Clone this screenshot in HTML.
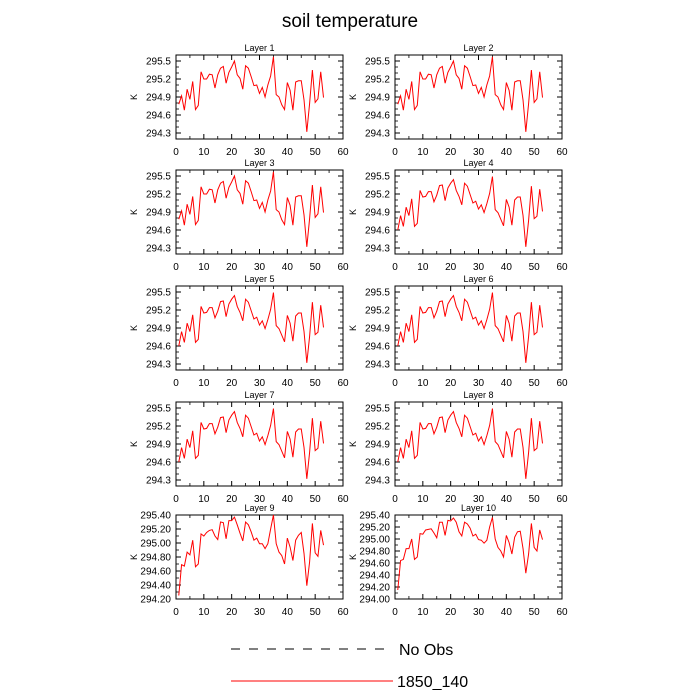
<!DOCTYPE html>
<html><head><meta charset="utf-8"><style>
body{margin:0;background:#fff;}
svg{display:block;font-family:"Liberation Sans",sans-serif;}
</style></head><body>
<svg id="chart" width="700" height="700" viewBox="0 0 700 700">
<text x="350" y="27" text-anchor="middle" font-size="19">soil temperature</text>
<g id="panels"></g>
<g>
<line x1="231" y1="649" x2="388" y2="649" stroke="#000" stroke-width="1" stroke-dasharray="9,9"/>
<text x="399" y="655" font-size="16">No Obs</text>
<line x1="231" y1="681" x2="393" y2="681" stroke="#f00" stroke-width="1"/>
<text x="397" y="687" font-size="16">1850_140</text>
</g>
</svg>
<script>
const L1=[294.78,294.92,294.68,295.03,294.86,295.16,294.69,294.76,295.32,295.2,295.2,295.28,295.27,295.05,295.27,295.38,295.41,295.13,295.31,295.4,295.5,295.27,295.21,295.03,295.42,295.38,295.24,295.09,295.1,294.96,295.06,294.9,295.1,295.25,295.57,294.94,294.9,294.77,294.69,295.14,295.01,294.68,295.15,295.17,295.17,294.85,294.32,294.79,295.35,294.81,294.87,295.32,294.89];
const L5=[294.6,294.84,294.66,294.98,294.84,295.12,294.66,294.71,295.26,295.15,295.16,295.24,295.24,295.07,295.18,295.34,295.35,295.09,295.3,295.38,295.44,295.26,295.16,295.02,295.38,295.33,295.19,295.05,295.08,294.95,295.02,294.89,295.04,295.21,295.49,294.94,294.89,294.78,294.67,295.11,294.98,294.68,295.1,295.15,295.15,294.84,294.32,294.76,295.33,294.79,294.83,295.28,294.91];
const L9=[294.25,294.69,294.67,294.87,294.83,295.04,294.66,294.7,295.13,295.1,295.15,295.18,295.19,295.1,295.05,295.3,295.29,295.06,295.32,295.32,295.37,295.26,295.14,295.03,295.3,295.26,295.16,295.04,295.07,294.99,294.99,294.92,294.99,295.2,295.4,294.99,294.87,294.82,294.7,295.07,294.94,294.75,295.04,295.11,295.15,294.85,294.39,294.73,295.28,294.86,294.81,295.18,294.97];
const L10=[294.15,294.64,294.66,294.84,294.84,295.0,294.66,294.7,295.09,295.08,295.15,295.16,295.17,295.1,295.02,295.28,295.28,295.06,295.31,295.3,295.35,295.28,295.12,295.05,295.28,295.25,295.18,295.05,295.08,294.99,294.98,294.93,294.98,295.2,295.36,295.0,294.86,294.8,294.7,295.06,294.94,294.75,295.03,295.12,295.13,294.84,294.43,294.75,295.26,294.86,294.8,295.15,294.99];
const layerSeries=[L1,L1,L1,L5,L5,L5,L5,L5,L9,L10];
const layerNames=["Layer 1","Layer 2","Layer 3","Layer 4","Layer 5","Layer 6","Layer 7","Layer 8","Layer 9","Layer 10"];
const yRangeA=[294.2,295.6];
const yTicksA=["294.3","294.6","294.9","295.2","295.5"];
const yRangeB=[294.2,295.4];
const yTicksB=["294.20","294.40","294.60","294.80","295.00","295.20","295.40"];
const yRangeC=[294.0,295.4];
const yTicksC=["294.00","294.20","294.40","294.60","294.80","295.00","295.20","295.40"];
const xTicks=[0,10,20,30,40,50,60];

const NS="http://www.w3.org/2000/svg";
const root=document.getElementById('panels');
function mk(tag,attrs,parent){const e=document.createElementNS(NS,tag);for(const k in attrs)e.setAttribute(k,attrs[k]);parent.appendChild(e);return e;}
const colX=[176,395], rowY=[55,170,286,402,515], W=167, H=84;
layerNames.forEach((name,i)=>{
  const left=colX[i%2], top=rowY[Math.floor(i/2)];
  let yr=yRangeA, yt=yTicksA, minorStep=0.1;
  if(i===8){yr=yRangeB;yt=yTicksB;}
  if(i===9){yr=yRangeC;yt=yTicksC;}
  const xs=v=>left+v/60*W;
  const ys=v=>top+H-(v-yr[0])/(yr[1]-yr[0])*H;
  const g=mk('g',{},root);
  
  
  const t=mk('text',{x:left+W/2,y:top-4,'text-anchor':'middle','font-size':9},g);
  
  
  t.textContent=name;
  const fr=mk('rect',{x:left,y:top,width:W,height:H,fill:'none',stroke:'#000','stroke-width':1},g);
  
  
  for(let v=Math.ceil(yr[0]*10-1e-6)/10; v<=yr[1]+1e-6; v+=minorStep){
    const y=ys(v);
    mk('line',{x1:left,y1:y,x2:left+3,y2:y,stroke:'#000','stroke-width':0.8},g);
    mk('line',{x1:left+W,y1:y,x2:left+W-3,y2:y,stroke:'#000','stroke-width':0.8},g);
  }
  yt.forEach(s=>{
    const y=ys(parseFloat(s));
    mk('line',{x1:left,y1:y,x2:left+5,y2:y,stroke:'#000','stroke-width':1},g);
    mk('line',{x1:left+W,y1:y,x2:left+W-5,y2:y,stroke:'#000','stroke-width':1},g);
    const l=mk('text',{x:left-5,y:y+3.5,'text-anchor':'end','font-size':10},g);
    
    
    l.textContent=s;
  });
  for(let v=5; v<60; v+=10){
    const x=xs(v);
    mk('line',{x1:x,y1:top+H,x2:x,y2:top+H-3,stroke:'#000','stroke-width':0.8},g);
    mk('line',{x1:x,y1:top,x2:x,y2:top+3,stroke:'#000','stroke-width':0.8},g);
  }
  xTicks.forEach(v=>{
    const x=xs(v);
    mk('line',{x1:x,y1:top+H,x2:x,y2:top+H-5,stroke:'#000','stroke-width':1},g);
    mk('line',{x1:x,y1:top,x2:x,y2:top+5,stroke:'#000','stroke-width':1},g);
    const l=mk('text',{x:x,y:top+H+16,'text-anchor':'middle','font-size':10},g);
    
    
    l.textContent=v;
  });
  const ka=mk('text',{x:0,y:0,'text-anchor':'middle','font-size':9,transform:`translate(${left-39},${top+H/2}) rotate(-90)`},g);
  
  
  ka.textContent='K';
  const d=layerSeries[i].map((v,j)=>`${j?'L':'M'}${xs(j+1).toFixed(2)},${ys(v).toFixed(2)}`).join(' ');
  const p=mk('path',{d:d,fill:'none',stroke:'#f00','stroke-width':1},g);
  
  
});
</script>
</body></html>
